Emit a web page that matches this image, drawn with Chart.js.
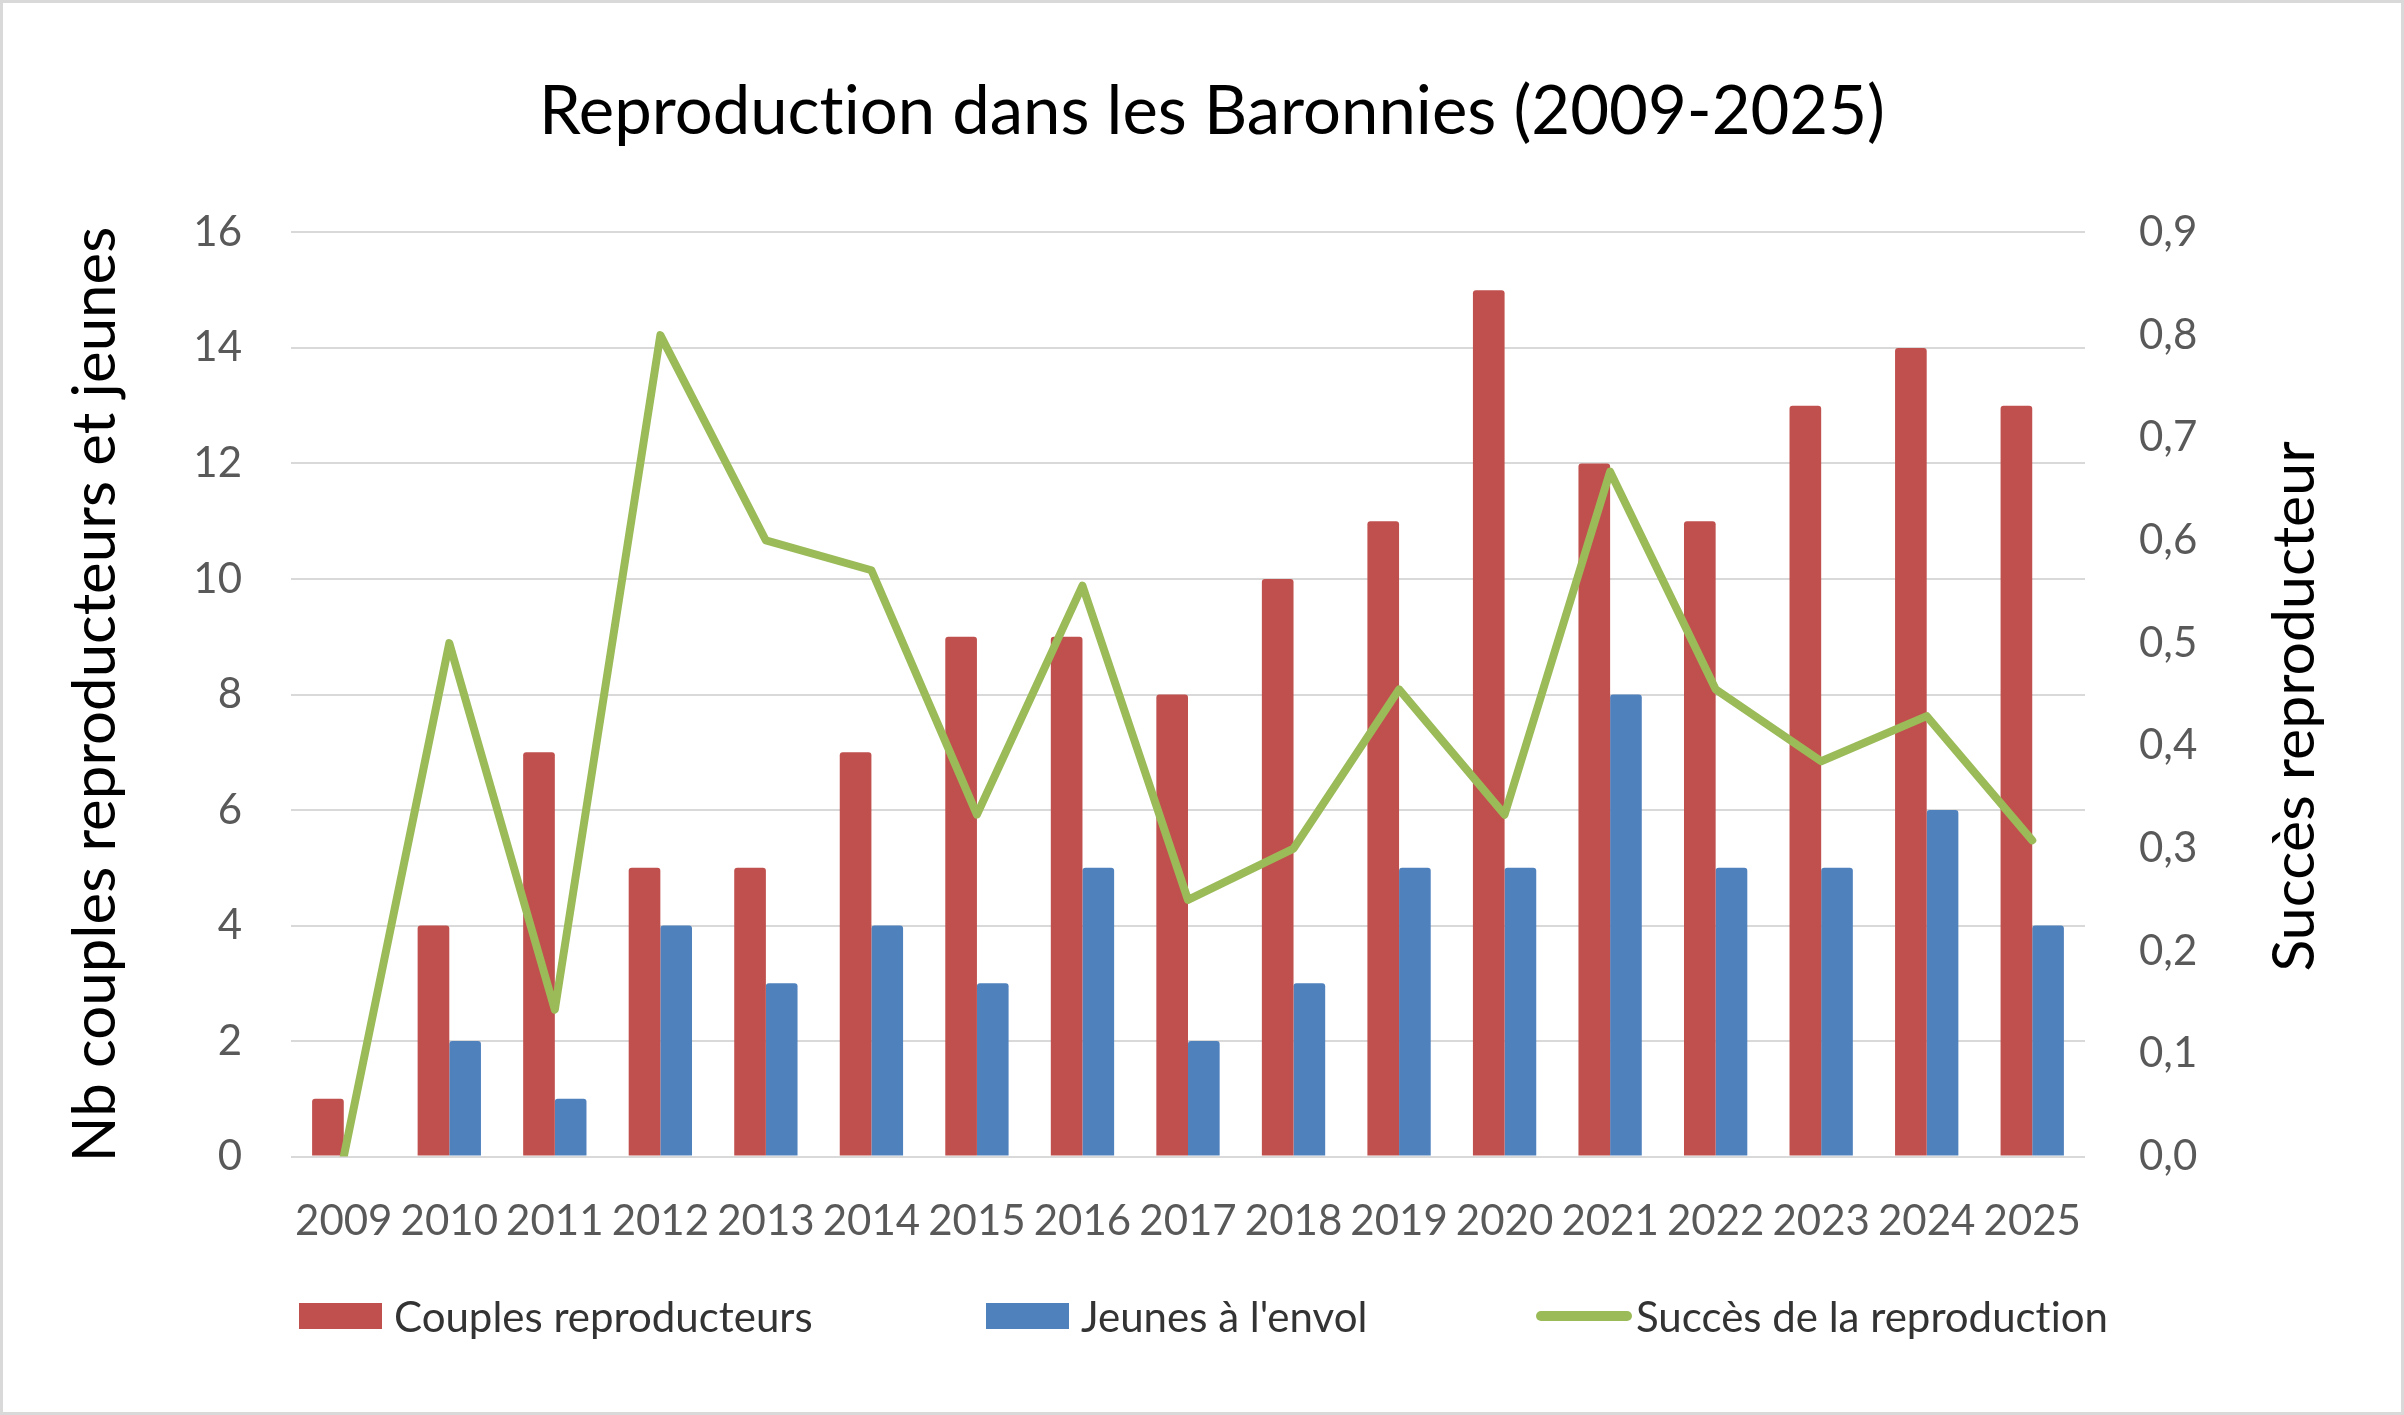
<!DOCTYPE html>
<html>
<head>
<meta charset="utf-8">
<script src="https://cdn.jsdelivr.net/npm/chart.js@4/dist/chart.umd.min.js"></script>
<style>
  html, body { margin: 0; padding: 0; background: #fff; }
  #wrap { position: relative; width: 2404px; height: 1415px; }
  #c { position: absolute; left: 0; top: 0; }
  #legend { position: absolute; left: 0; top: 1290px; width: 2404px; height: 52px; font-family: Lato, sans-serif; font-size: 42px; color: #333; font-variant-ligatures: none; }
  .item { position: absolute; top: 0; height: 52px; display: flex; align-items: center; white-space: nowrap; }
  .sw { display: inline-block; margin-right: 12px; }
</style>
</head>
<body>
<div id="wrap">
  <canvas id="c" width="2404" height="1415"></canvas>
  <div id="legend"></div>
</div>
<script>
const years = ['2009','2010','2011','2012','2013','2014','2015','2016','2017','2018','2019','2020','2021','2022','2023','2024','2025'];
const couples = [1, 4, 7, 5, 5, 7, 9, 9, 8, 10, 11, 15, 12, 11, 13, 14, 13];
const jeunes  = [0, 2, 1, 4, 3, 4, 3, 5, 2, 3, 5, 5, 8, 5, 5, 6, 4];
const succes  = [0, 0.5, 0.143, 0.8, 0.6, 0.571, 0.333, 0.556, 0.25, 0.3, 0.455, 0.333, 0.667, 0.455, 0.385, 0.429, 0.308];

const seriesNames = ['Couples reproducteurs', 'Jeunes à l\'envol', 'Succès de la reproduction'];
const colors = ['#C0504D', '#4F81BD', '#9BBB59'];
const chartTitle = 'Reproduction dans les Baronnies (2009-2025)';
const leftTitle = 'Nb couples reproducteurs et jeunes';
const rightTitle = 'Succès reproducteur';

const FONT = 'Lato, sans-serif';
const GRID = '#D9D9D9';
const TICK = '#595959';

const noLig = {
  id: 'noLig',
  beforeDraw(chart) {
    const ctx = chart.ctx;
    try { ctx.textRendering = 'optimizeSpeed'; } catch (e) {}
    try { ctx.fontVariantCaps = 'normal'; } catch (e) {}
  }
};

const extras = {
  id: 'extras',
  afterDraw(chart) {
    const ctx = chart.ctx;
    const a = chart.chartArea;
    ctx.save();
    ctx.font = '59px ' + FONT;
    ctx.fillStyle = '#000';
    ctx.textAlign = 'center';
    ctx.textBaseline = 'middle';
    ctx.translate(2295, (a.top + a.bottom) / 2 + 12);
    ctx.rotate(-Math.PI / 2);
    ctx.fillText(rightTitle, 0, 0);
    ctx.restore();
    ctx.save();
    ctx.strokeStyle = GRID;
    ctx.lineWidth = 3;
    ctx.strokeRect(1.5, 1.5, chart.width - 3, chart.height - 3);
    ctx.restore();
  }
};

const chart = new Chart(document.getElementById('c'), {
  data: {
    labels: years,
    datasets: [
      { type: 'bar', label: seriesNames[0], data: couples, backgroundColor: colors[0], yAxisID: 'y', order: 1,
        categoryPercentage: 0.6, barPercentage: 1.0, borderRadius: {topLeft: 3, topRight: 3}, borderSkipped: 'start' },
      { type: 'bar', label: seriesNames[1], data: jeunes, backgroundColor: colors[1], yAxisID: 'y', order: 2,
        categoryPercentage: 0.6, barPercentage: 1.0, borderRadius: {topLeft: 3, topRight: 3}, borderSkipped: 'start' },
      { type: 'line', label: seriesNames[2], data: succes, borderColor: colors[2], backgroundColor: colors[2], yAxisID: 'y1', order: 0,
        borderWidth: 8, pointRadius: 0, tension: 0, borderJoinStyle: 'round', borderCapStyle: 'round' }
    ]
  },
  options: {
    responsive: false,
    animation: false,
    devicePixelRatio: 1,
    layout: { padding: { left: 20, right: 0, top: 72, bottom: 128 } },
    plugins: {
      legend: { display: false },
      tooltip: { enabled: false },
      title: {
        display: true, text: chartTitle, color: '#000',
        font: { family: FONT, size: 67, weight: 'normal' },
        padding: { top: 0, bottom: 80 }
      }
    },
    scales: {
      x: {
        grid: { display: false, drawTicks: false },
        border: { display: false },
        ticks: { color: TICK, font: { family: FONT, size: 42 }, padding: 40, maxRotation: 0, autoSkip: false }
      },
      y: {
        position: 'left', min: 0, max: 16,
        ticks: { stepSize: 2, color: TICK, font: { family: FONT, size: 42 }, padding: 49 },
        grid: { color: GRID, lineWidth: 2, drawTicks: false },
        border: { display: false },
        title: { display: true, text: leftTitle, color: '#000', font: { family: FONT, size: 60 }, padding: { top: 40, bottom: 0 } },
        afterFit(s) { s.width = 271; }
      },
      y1: {
        position: 'right', min: 0, max: 0.9,
        ticks: { stepSize: 0.1, color: TICK, font: { family: FONT, size: 42 }, padding: 54,
          callback: (v) => v.toFixed(1).replace('.', ',') },
        grid: { display: false, drawTicks: false },
        border: { display: false },
        afterFit(s) { s.width = 319; }
      }
    }
  },
  plugins: [noLig, extras]
});

// HTML legend built from chart's datasets
const legendPos = [299, 986, 1536];
const lg = document.getElementById('legend');
chart.data.datasets.forEach((ds, i) => {
  const it = document.createElement('div');
  it.className = 'item';
  it.style.left = legendPos[i] + 'px';
  const sw = document.createElement('span');
  sw.className = 'sw';
  if (ds.type === 'line') {
    sw.style.width = '96px'; sw.style.height = '10px'; sw.style.borderRadius = '5px';
    sw.style.marginRight = '4px';
  } else {
    sw.style.width = '83px'; sw.style.height = '26px';
  }
  sw.style.background = ds.type === 'line' ? ds.borderColor : ds.backgroundColor;
  const tx = document.createElement('span');
  tx.textContent = ds.label;
  it.appendChild(sw); it.appendChild(tx);
  lg.appendChild(it);
});
</script>
</body>
</html>
